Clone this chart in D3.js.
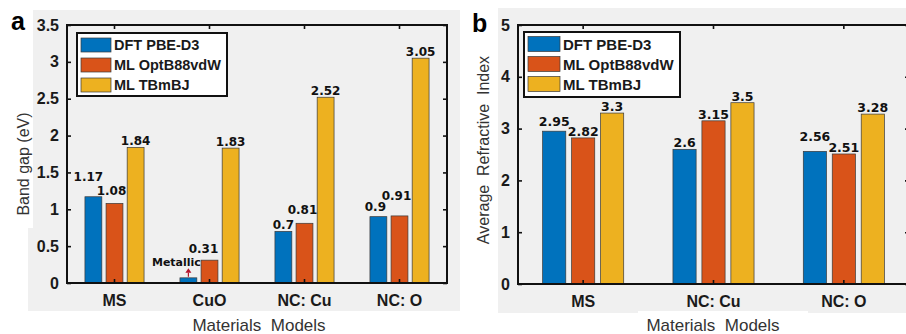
<!DOCTYPE html>
<html>
<head>
<meta charset="utf-8">
<script src="https://cdn.jsdelivr.net/npm/d3@7/dist/d3.min.js"></script>
<style>
  html, body { margin: 0; padding: 0; background: #fff; }
  svg { display: block; overflow: hidden; }
  text { white-space: pre; }
</style>
</head>
<body>
<svg id="fig" width="906" height="334"></svg>
<script>
// ---- data ----
const seriesNames = ["DFT PBE-D3", "ML OptB88vdW", "ML TBmBJ"];
const seriesColors = ["#0072BD", "#D95319", "#EDB120"];

// (a) band gap, eV
const gapCategories = ["MS", "CuO", "NC: Cu", "NC: O"];
const gapDFT   = [1.17, 0.07, 0.7, 0.9];
const gapOpt   = [1.08, 0.31, 0.81, 0.91];
const gapTB    = [1.84, 1.83, 2.52, 3.05];
const gapLabelsDFT = ["1.17", "Metallic", "0.7", "0.9"];
const gapTicks = [0, 0.5, 1, 1.5, 2, 2.5, 3, 3.5];
const gapTickLabels = ["0", "0.5", "1", "1.5", "2", "2.5", "3", "3.5"];

// (b) average refractive index
const rCategories = ["MS", "NC: Cu", "NC: O"];
const rDFT = [2.95, 2.6, 2.56];
const rOpt = [2.82, 3.15, 2.51];
const rTB  = [3.3, 3.5, 3.28];
const rTicks = [0, 1, 2, 3, 4, 5];
const rTickLabels = ["0", "1", "2", "3", "4", "5"];

const svg = d3.select("#fig");

// panel backgrounds
svg.append("rect").attr("x", 33).attr("y", 10).attr("width", 427).attr("height", 301).attr("fill", "#f0f0f0");
svg.append("rect").attr("x", 28).attr("y", 228).attr("width", 6).attr("height", 83).attr("fill", "#f0f0f0");
svg.append("rect").attr("x", 498).attr("y", 8).attr("width", 408).attr("height", 305).attr("fill", "#f0f0f0");
svg.append("rect").attr("x", 638).attr("y", 311).attr("width", 170).attr("height", 23).attr("fill", "#fff");

function panel(cfg) {
  const g = svg.append("g");
  const { left, right, top, bottom } = cfg;
  const x = d3.scaleBand().domain(cfg.categories).range([left, right]).paddingInner(0).paddingOuter(0);
  const y = d3.scaleLinear().domain(cfg.yDomain).range([bottom, top]);
  const bw = x.bandwidth();
  const inner = d3.scaleBand().domain(d3.range(3))
    .range([bw * (0.5 - 1 / 3), bw * (0.5 + 1 / 3)])
    .paddingInner(0.2).paddingOuter(0.1);

  const rows = cfg.categories.map((c, i) => ({
    cat: c,
    vals: cfg.series.map((s, k) => ({ k, v: s[i], label: cfg.labels[k][i], i }))
  }));

  const groups = g.selectAll("g.grp").data(rows).join("g")
    .attr("transform", d => `translate(${x(d.cat)},0)`);

  groups.selectAll("rect").data(d => d.vals).join("rect")
    .attr("x", d => inner(d.k))
    .attr("width", inner.bandwidth())
    .attr("y", d => y(d.v))
    .attr("height", d => y(0) - y(d.v))
    .attr("fill", d => seriesColors[d.k])
    .attr("stroke", "#3a3a3a").attr("stroke-width", 0.7);

  // value labels above bars
  const shift = d => cfg.nudge[d.k + "|" + d.i] || [0, 0];
  groups.selectAll("text.val").data(d => d.vals).join("text")
    .attr("class", "val")
    .attr("x", d => inner(d.k) + inner.bandwidth() / 2 + shift(d)[0])
    .attr("y", d => y(d.v) - 2 + shift(d)[1])
    .attr("text-anchor", "middle")
    .attr("font-family", "DejaVu Sans")
    .attr("font-weight", "bold")
    .attr("font-size", d => d.label === "Metallic" ? 11 : cfg.valSize)
    .attr("fill", "#111")
    .text(d => d.label);

  // axes box
  const axisColor = "#111";
  const yAxisL = d3.axisLeft(y).tickValues(cfg.ticks).tickFormat((d, i) => cfg.tickLabels[i]).tickSizeInner(-4).tickSizeOuter(0).tickPadding(8);
  const yAxisR = d3.axisRight(y).tickValues(cfg.ticks).tickFormat("").tickSizeInner(-4).tickSizeOuter(0);
  const xAxisB = d3.axisBottom(x).tickSizeInner(-4).tickSizeOuter(0).tickPadding(12);
  const xAxisT = d3.axisTop(x).tickFormat("").tickSizeInner(-4).tickSizeOuter(0);

  const axes = [
    g.append("g").attr("transform", `translate(${left},0)`).call(yAxisL),
    g.append("g").attr("transform", `translate(${right},0)`).call(yAxisR),
    g.append("g").attr("transform", `translate(0,${bottom})`).call(xAxisB),
    g.append("g").attr("transform", `translate(0,${top})`).call(xAxisT)
  ];
  axes.forEach(a => {
    a.select(".domain").remove();
    a.selectAll(".tick line").attr("stroke", axisColor).attr("stroke-width", 1.6);
    a.selectAll("text").attr("font-family", "Liberation Sans, Arial, sans-serif")
      .attr("font-weight", "bold").attr("font-size", 16).attr("fill", "#1a1a1a");
  });
  g.append("rect").attr("x", left).attr("y", top).attr("width", right - left).attr("height", bottom - top)
    .attr("fill", "none").attr("stroke", axisColor).attr("stroke-width", 2);

  // axis titles
  g.append("text").attr("x", cfg.xTitlePos[0]).attr("y", cfg.xTitlePos[1])
    .attr("text-anchor", "middle").attr("font-family", "Liberation Sans, Arial, sans-serif")
    .attr("font-size", 17).attr("fill", "#333").text("Materials  Models");
  g.append("text")
    .attr("transform", `translate(${cfg.yTitlePos[0]},${cfg.yTitlePos[1]}) rotate(-90)`)
    .attr("text-anchor", "middle").attr("dominant-baseline", "central")
    .attr("font-family", "Liberation Sans, Arial, sans-serif")
    .attr("font-size", 16).attr("fill", "#333").text(cfg.yTitle);

  // legend
  const L = cfg.legend;
  const lg = g.append("g");
  lg.append("rect").attr("x", L.x).attr("y", L.y).attr("width", L.w).attr("height", L.h)
    .attr("fill", "#fff").attr("stroke", "#111").attr("stroke-width", 2);
  seriesNames.forEach((n, k) => {
    const cy = L.y + L.rowTop + k * L.rowStep;
    lg.append("rect").attr("x", L.x + 4).attr("y", cy - L.sw / 2).attr("width", L.swW).attr("height", L.sw)
      .attr("fill", seriesColors[k]).attr("stroke", "#3a3a3a").attr("stroke-width", 0.7);
    lg.append("text").attr("x", L.x + 7 + L.swW).attr("y", cy).attr("dominant-baseline", "central")
      .attr("font-family", "Liberation Sans, Arial, sans-serif").attr("font-weight", "bold")
      .attr("font-size", L.fs).attr("fill", "#1a1a1a").text(n);
  });

  // panel letter
  g.append("text").attr("x", cfg.letterPos[0]).attr("y", cfg.letterPos[1])
    .attr("font-family", "Liberation Sans, Arial, sans-serif").attr("font-weight", "bold")
    .attr("font-size", 25).attr("fill", "#000").text(cfg.letter);

  return { x, y, inner };
}

const pa = panel({
  left: 67, right: 447, top: 25, bottom: 283,
  categories: gapCategories, yDomain: [0, 3.5],
  series: [gapDFT, gapOpt, gapTB],
  labels: [gapLabelsDFT, gapOpt.map(String), gapTB.map(String)],
  ticks: gapTicks, tickLabels: gapTickLabels,
  valSize: 12,
  nudge: { "0|0": [-5, -14], "1|0": [-3, -6], "0|1": [-12, -10], "1|1": [-6, -5], "1|2": [-2, -7], "0|3": [-3, -4], "1|3": [-3, -14] },
  xTitlePos: [259, 331], yTitlePos: [23, 164], yTitle: "Band gap (eV)",
  legend: { x: 77, y: 33, w: 150, h: 63, rowTop: 12, rowStep: 20, sw: 14, swW: 30, fs: 14.5 },
  letter: "a", letterPos: [11, 30]
});

// "Metallic" marker arrow on the CuO DFT bar
{
  const cx = pa.x("CuO") + pa.inner(0) + pa.inner.bandwidth() / 2;
  const yt = pa.y(gapDFT[1]);
  const ar = svg.append("g").attr("fill", "#b3132b").attr("stroke", "#b3132b");
  ar.append("line").attr("x1", cx).attr("x2", cx).attr("y1", yt - 1).attr("y2", yt - 5).attr("stroke-width", 1.2);
  ar.append("path").attr("d", `M${cx - 3},${yt - 5} L${cx + 3},${yt - 5} L${cx},${yt - 9.5} Z`).attr("stroke", "none");
}

panel({
  left: 518, right: 909, top: 25, bottom: 284,
  categories: rCategories, yDomain: [0, 5],
  series: [rDFT, rOpt, rTB],
  labels: [rDFT.map(String), rOpt.map(String), rTB.map(String)],
  ticks: rTicks, tickLabels: rTickLabels,
  valSize: 12.5,
  nudge: { "0|0": [0, -3], "0|2": [0, -8] },
  xTitlePos: [713, 331], yTitlePos: [483, 150], yTitle: "Average  Refractive  Index",
  legend: { x: 524, y: 32, w: 156, h: 65, rowTop: 12, rowStep: 20, sw: 15, swW: 32, fs: 15 },
  letter: "b", letterPos: [472, 32]
});
</script>
</body>
</html>
